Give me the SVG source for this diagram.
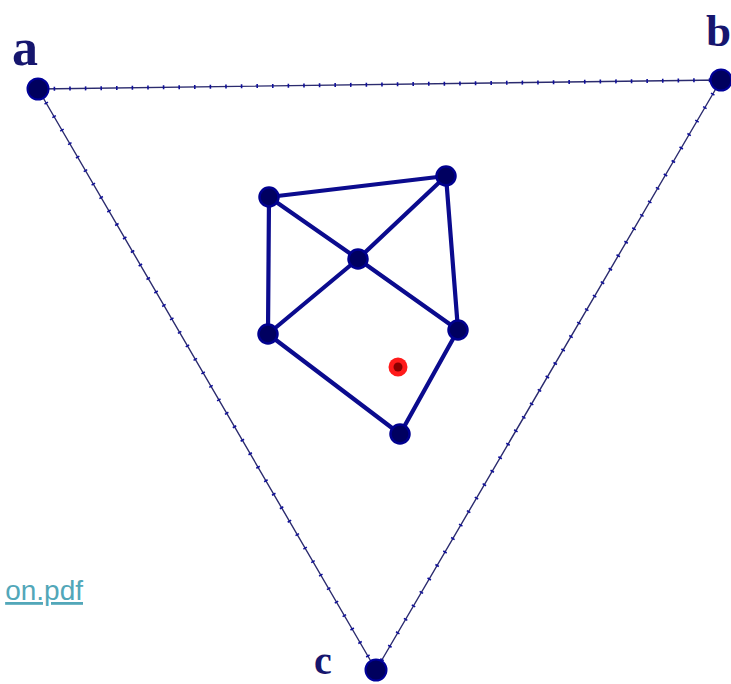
<svg xmlns="http://www.w3.org/2000/svg" width="731" height="684" viewBox="0 0 731 684">
<style>
.lbl{font-family:"Liberation Serif",serif;font-weight:bold;fill:#16166e}
.outer{stroke:#2b2b6e;stroke-width:1.4;fill:none}
.tick{stroke:#10109a;stroke-width:4;stroke-dasharray:1.6 14;fill:none}
.inner{stroke:#0b0b8e;stroke-width:4.2;fill:none;stroke-linecap:round}
.onode{fill:#00005e;stroke:#000099;stroke-width:2}
.inode{fill:#000060;stroke:#00008f;stroke-width:2.5}
.link{font-family:"Liberation Sans",Arial,sans-serif;font-size:28px;fill:#52a7b9;text-decoration:underline}
</style>
<rect width="731" height="684" fill="#ffffff"/>
<g id="connectors">
<path class="outer" d="M38 89 L721 80 M38 89 L376 670 M721 80 L376 670"/>
<path class="tick" d="M38 89 L721 80 M38 89 L376 670 M721 80 L376 670"/>
<path class="inner" d="M269 197 L446 176 M269 197 L268 334 M269 197 L358 259 L458 330 M268 334 L358 259 L446 176 M446 176 L458 330 M268 334 L400 434 L458 330"/>
</g>
<g id="node-a"><circle class="onode" cx="38" cy="89" r="10.5"/><text class="lbl" x="12" y="65" font-size="52">a</text></g>
<g id="node-b"><circle class="onode" cx="721" cy="80" r="10.5"/><text class="lbl" x="706" y="46" font-size="45">b</text></g>
<g id="node-c"><circle class="onode" cx="376" cy="670" r="10.5"/><text class="lbl" x="314" y="674" font-size="40">c</text></g>
<g id="node-1"><circle class="inode" cx="269" cy="197" r="9.5"/></g>
<g id="node-2"><circle class="inode" cx="446" cy="176" r="9.5"/></g>
<g id="node-3"><circle class="inode" cx="358" cy="259" r="9.5"/></g>
<g id="node-4"><circle class="inode" cx="268" cy="334" r="9.5"/></g>
<g id="node-5"><circle class="inode" cx="458" cy="330" r="9.5"/></g>
<g id="node-6"><circle class="inode" cx="400" cy="434" r="9.5"/></g>
<g id="red-point"><circle cx="398" cy="367" r="9.5" fill="#ff1a1a"/><circle cx="398" cy="367" r="4.5" fill="#8a0000"/></g>
<g id="link"><text class="link" x="83" y="600" text-anchor="end">on.pdf</text></g>
</svg>
